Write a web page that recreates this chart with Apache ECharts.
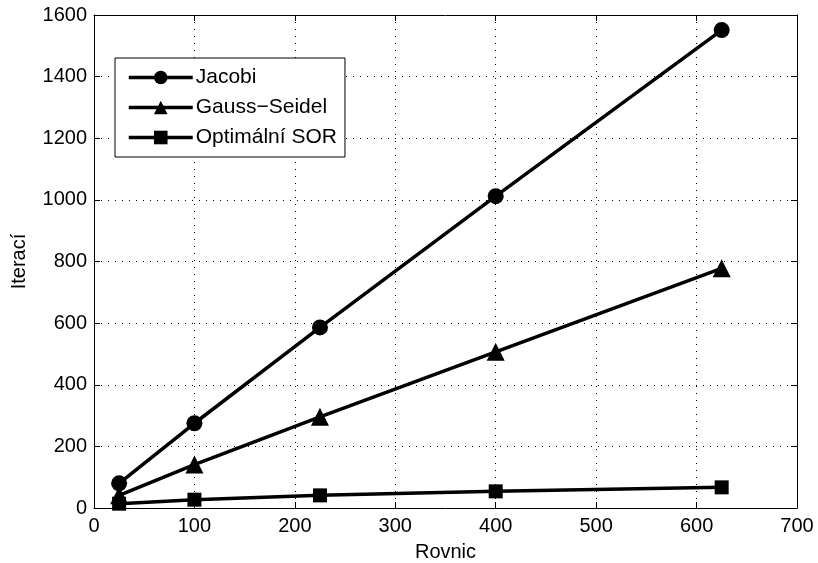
<!DOCTYPE html>
<html style="height: 100%">
<head>
<meta charset="utf-8">
<script src="https://cdn.jsdelivr.net/npm/echarts@6/dist/echarts.min.js"></script>
</head>
<body style="height: 100%; margin: 0; background: #fff">
<div id="container" style="width: 818px; height: 563px"></div>
<script>
// počty rovnic a iterací
var rovnic = [25, 100, 225, 400, 625];
var jacobi = [80, 275, 586, 1012, 1551];
var gaussSeidel = [41, 141, 296, 507, 778];
var optSor = [14, 27, 41, 54, 67];

var pairs = function (xs, ys) {
  var res = [];
  for (var i = 0; i < xs.length; i++) res.push([xs[i], ys[i]]);
  return res;
};

var font = 'Liberation Sans, Arial, sans-serif';
var fs = 20;
var chart = echarts.init(document.getElementById('container'));

var mkSeries = function (name, data, symbol, size) {
  return {
    name: name,
    type: 'line',
    data: pairs(rovnic, data),
    symbol: symbol,
    symbolSize: size,
    lineStyle: { color: '#000', width: 3.5 },
    itemStyle: { color: '#000' },
    animation: false
  };
};

var axisCommon = {
  axisLine: { show: true, onZero: false, lineStyle: { color: '#000', width: 1 } },
  axisTick: { show: true, inside: true, length: 6, lineStyle: { color: '#000' } }
};
var plain = function (v) { return String(v); };

chart.setOption({
  backgroundColor: '#fff',
  grid: { left: 94, right: 21, top: 15, bottom: 55, show: false, outerBoundsMode: 'none', containLabel: false },
  legend: {
    left: 115, top: 58,
    orient: 'vertical',
    backgroundColor: '#fff',
    borderColor: '#000',
    borderWidth: 1,
    borderRadius: 0,
    padding: [9, 8, 9, 12],
    itemGap: 9,
    itemWidth: 64,
    itemHeight: 17,
    lineStyle: { width: 3.5 },
    textStyle: { fontFamily: font, fontSize: 21, color: '#000', padding: [0, 0, 0, -2] },
    data: ['Jacobi', 'Gauss\u2212Seidel', 'Optimální SOR']
  },
  xAxis: [
    Object.assign({
      type: 'value', min: 0, max: 700, interval: 100,
      name: 'Rovnic', nameLocation: 'middle', nameGap: 34,
      nameTextStyle: { fontFamily: font, fontSize: fs, color: '#000' },
      axisLabel: { fontFamily: font, fontSize: fs, color: '#000', margin: 8, formatter: plain },
      splitLine: { show: true, lineStyle: { color: '#000', type: [1, 6], width: 1 } }
    }, axisCommon),
    Object.assign({
      type: 'value', min: 0, max: 700, interval: 100, position: 'top',
      axisLabel: { show: false }, splitLine: { show: false }
    }, axisCommon)
  ],
  yAxis: [
    Object.assign({
      type: 'value', min: 0, max: 1600, interval: 200,
      name: 'Iterací', nameLocation: 'middle', nameGap: 65,
      nameTextStyle: { fontFamily: font, fontSize: fs, color: '#000' },
      axisLabel: { fontFamily: font, fontSize: fs, color: '#000', margin: 7, formatter: plain },
      splitLine: { show: true, lineStyle: { color: '#000', type: [1, 6], width: 1 } }
    }, axisCommon),
    Object.assign({
      type: 'value', min: 0, max: 1600, interval: 200, position: 'right',
      axisLabel: { show: false }, splitLine: { show: false }
    }, axisCommon)
  ],
  series: [
    mkSeries('Jacobi', jacobi, 'circle', 16),
    mkSeries('Gauss\u2212Seidel', gaussSeidel, 'triangle', 18),
    mkSeries('Optimální SOR', optSor, 'rect', 14)
  ]
});
</script>
</body>
</html>
